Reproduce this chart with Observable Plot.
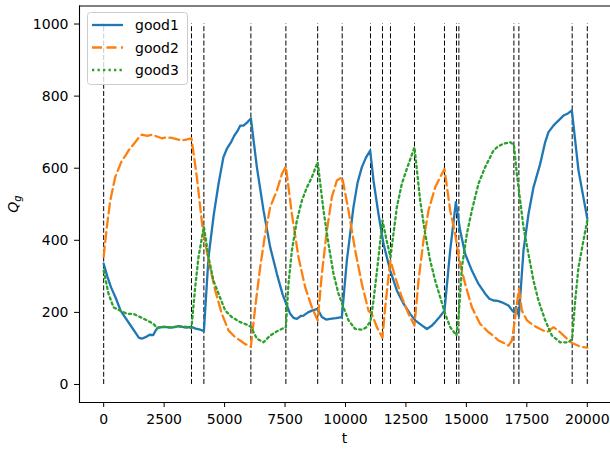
<!DOCTYPE html>
<html><head><meta charset="utf-8">
<script src="https://cdn.jsdelivr.net/npm/d3@7"></script>
<script src="https://cdn.jsdelivr.net/npm/@observablehq/plot@0.6"></script>
<style>body{margin:0;background:#fff} svg{display:block}</style>
</head><body><div id="chart"></div>
<script>
const seriesNames = ["good1", "good2", "good3"];
const seriesColors = ["#1f77b4", "#ff7f0e", "#2ca02c"];

const t1 = [0,150,300,500,700,900,1100,1300,1450,1580,1750,1900,2050,2150,2250,2500,2800,3100,3400,3631,3800,4000,4144,4335,4550,4750,4950,5095,5250,5400,5550,5645,5783,5950,6088,6335,6610,6886,7163,7400,7535,7713,7850,7990,8150,8263,8450,8610,8842,9023,9200,9367,9600,9850,10057,10330,10500,10678,10850,11022,11158,11365,11572,11850,12125,12400,12676,12882,13160,13366,13550,13710,13900,14094,14330,14565,14743,14950,15227,15500,15777,15950,16120,16300,16468,16741,16900,16977,17060,17171,17362,17568,17775,18052,18250,18395,18600,18743,19016,19200,19363,19636,20000];
const good1 = [335,300,270,240,205,185,165,145,130,127,132,138,137,150,158,160,158,162,158,160,155,152,148,353,470,557,630,654,670,690,705,718,718,728,738,603,483,381,307,250,226,196,185,182,190,191,200,205,210,187,180,182,184,187,344,492,560,603,630,649,566,473,390,316,261,224,196,178,164,154,162,173,188,205,372,506,427,362,316,279,252,238,233,232,228,219,205,200,215,190,372,473,547,612,670,700,718,728,746,752,760,594,460];

const t2 = [0,130,270,475,750,900,1027,1303,1450,1580,1800,1993,2200,2407,2600,2820,3050,3234,3450,3631,3854,4086,4335,4611,4888,5161,5438,5645,5850,6088,6266,6472,6679,6886,7163,7370,7535,7783,8056,8333,8610,8850,9023,9230,9437,9644,9864,10124,10401,10678,10950,11090,11298,11530,11642,11807,11861,12055,12330,12605,12854,13020,13226,13433,13710,13917,14094,14330,14537,14690,14950,15227,15570,15914,16120,16327,16550,16741,16882,16965,17171,17295,17502,17775,18052,18329,18602,18879,19156,19375,19706,20000];
const good2 = [355,436,510,575,621,635,649,672,685,693,690,693,688,683,686,684,680,677,680,683,575,436,344,261,196,150,131,122,112,105,214,325,418,492,538,584,605,473,353,270,214,178,307,427,520,566,575,483,372,279,205,196,159,130,214,316,344,298,242,196,164,288,400,483,547,575,598,483,418,350,279,214,168,145,135,122,115,108,122,159,265,205,178,164,154,145,159,145,127,115,105,102];

const t3 = [0,200,405,680,960,1232,1510,1786,2060,2200,2500,2800,3100,3400,3631,3784,3921,4144,4335,4541,4750,5025,5300,5645,5920,6088,6335,6610,6886,7230,7535,7643,7783,7990,8197,8404,8610,8850,9090,9297,9504,9711,9918,10124,10401,10678,10850,11034,11160,11366,11530,11700,11861,12125,12330,12600,12854,13089,13296,13503,13710,13917,14123,14330,14590,14690,14814,15020,15227,15500,15777,16120,16300,16535,16812,16965,17087,17225,17362,17568,17775,17981,18259,18535,18879,19223,19375,19500,19636,19843,20000];
const good3 = [316,252,214,205,196,196,187,178,168,157,160,158,161,160,156,270,353,438,353,288,252,205,187,173,166,160,127,117,136,150,159,279,372,455,510,547,575,617,483,390,307,252,214,178,154,152,158,175,233,353,455,400,353,492,557,610,658,510,418,344,288,242,196,159,136,200,325,418,483,557,603,649,660,668,672,665,584,510,436,362,288,233,178,136,117,117,127,233,325,400,455];

const switchTimes = [0,3631,4144,6088,7535,8850,9864,11034,11530,11861,12854,14094,14590,14690,16965,17171,19375,20000];
const xTicks = [0,2500,5000,7500,10000,12500,15000,17500,20000];
const yTicks = [0,200,400,600,800,1000];

const toRows = (ts, vs) => ts.map((t, i) => ({t, v: vs[i]}));
const rows1 = toRows(t1, good1), rows2 = toRows(t2, good2), rows3 = toRows(t3, good3);
const vlines = switchTimes.map(t => ({t}));

const lineW = 2.3;
const dashes = [null, "10,4.5", "2.3,3.2"];

const chart = Plot.plot({
  width: 610, height: 449,
  marginLeft: 79, marginRight: 0, marginTop: 5.5, marginBottom: 47,
  style: {fontFamily: "DejaVu Sans", fontSize: "14px", background: "white", color: "black"},
  x: {domain: [-1000, 20960]},
  y: {domain: [-50, 1050]},
  marks: [
    Plot.ruleX(vlines, {x: "t", y1: 0, y2: 1000, stroke: "black", strokeWidth: 1, strokeDasharray: "5,2.2"}),
    Plot.line(rows1, {x: "t", y: "v", stroke: seriesColors[0], strokeWidth: lineW}),
    Plot.line(rows2, {x: "t", y: "v", stroke: seriesColors[1], strokeWidth: lineW, strokeDasharray: dashes[1]}),
    Plot.line(rows3, {x: "t", y: "v", stroke: seriesColors[2], strokeWidth: lineW, strokeDasharray: dashes[2]}),
    Plot.axisX({ticks: xTicks, tickSize: 5, tickPadding: 7, tickFormat: d => String(d), label: null, fontSize: 14}),
    Plot.axisY({ticks: yTicks, tickSize: 5, tickPadding: 6, tickFormat: d => String(d), label: null, fontSize: 14}),
    Plot.frame({anchor: "left", stroke: "black", strokeWidth: 1.1}),
    Plot.frame({anchor: "bottom", stroke: "black", strokeWidth: 1.1}),
    Plot.frame({anchor: "top", stroke: "black", strokeWidth: 1.1})
  ]
});
document.getElementById("chart").appendChild(chart);

const svg = d3.select(chart);
// x label
svg.append("text").attr("x", 344.5).attr("y", 443).attr("text-anchor", "middle")
  .attr("font-family", "DejaVu Sans").attr("font-size", 14).attr("fill", "black").text("t");
// y label Q_g
const yl = svg.append("text").attr("transform", "translate(18,204) rotate(-90)")
  .attr("text-anchor", "middle").attr("font-family", "DejaVu Sans").attr("font-size", 14).attr("fill", "black");
yl.append("tspan").attr("font-style", "italic").text("Q");
yl.append("tspan").attr("font-style", "italic").attr("font-size", 10).attr("dy", 3).text("g");

// legend
const lg = svg.append("g").attr("text-anchor", "start");
lg.append("rect").attr("x", 87.5).attr("y", 12.5).attr("width", 100).attr("height", 72).attr("rx", 3)
  .attr("fill", "white").attr("fill-opacity", 0.8).attr("stroke", "#cccccc").attr("stroke-width", 1);
seriesNames.forEach((name, i) => {
  const y = 25 + i * 22.5;
  lg.append("line").attr("x1", 92).attr("x2", 123).attr("y1", y).attr("y2", y)
    .attr("stroke", seriesColors[i]).attr("stroke-width", lineW)
    .attr("stroke-dasharray", dashes[i]);
  lg.append("text").attr("x", 135).attr("y", y + 5).attr("text-anchor", "start").attr("font-family", "DejaVu Sans")
    .attr("font-size", 14).attr("fill", "black").text(name);
});
</script></body></html>
